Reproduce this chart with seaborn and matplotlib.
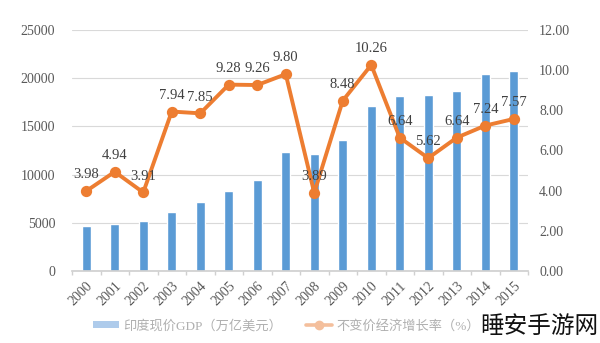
import matplotlib
matplotlib.use("Agg")
import matplotlib.pyplot as plt
import seaborn as sns
import numpy as np
import pandas as pd
from matplotlib.patches import Patch
from matplotlib.lines import Line2D

years = ["2000", "2001", "2002", "2003", "2004", "2005", "2006", "2007",
         "2008", "2009", "2010", "2011", "2012", "2013", "2014", "2015"]
gdp = [4670, 4880, 5190, 6120, 7160, 8300, 9440, 12340,
       12140, 13590, 17120, 18150, 18260, 18670, 20440, 20750]
growth = [3.98, 4.94, 3.91, 7.94, 7.85, 9.28, 9.26, 9.80,
          3.89, 8.48, 10.26, 6.64, 5.62, 6.64, 7.24, 7.57]
left_ticks = [0, 5000, 10000, 15000, 20000, 25000]
right_ticks = [0, 2, 4, 6, 8, 10, 12]
bar_label = "印度现价GDP（万亿美元）"
line_label = "不变价经济增长率（%）"
watermark = "睡安手游网"

sns.set_theme(style="white")
plt.rcParams["font.family"] = ["Liberation Serif", "Noto Sans CJK SC"]

BLUE = "#5B9BD5"
ORANGE = "#ED7D31"
TXT = "#595959"

df = pd.DataFrame({"year": years, "gdp": gdp, "growth": growth})

fig = plt.figure(figsize=(6, 3.43), dpi=100)
ax = fig.add_axes([0.12, 0.21, 0.76, 0.7025])

sns.barplot(data=df, x="year", y="gdp", color=BLUE, saturation=1,
            width=0.32, ax=ax)
ax.set_ylim(0, 25000)
ax.set_yticks(left_ticks)
ax.set_yticklabels([str(v) for v in left_ticks], color=TXT, fontsize=10)
ax.yaxis.grid(True, color="#d9d9d9", linewidth=0.8)
ax.set_axisbelow(True)
for s in ["top", "right", "left"]:
    ax.spines[s].set_visible(False)
ax.spines["bottom"].set_color("#d0d0d0")
ax.set_xlabel("")
ax.set_ylabel("")
ax.tick_params(axis="y", length=0, pad=12)
ax.set_xticks(range(len(years)))
ax.set_xticklabels(years, rotation=45, ha="right", rotation_mode="anchor",
                   color=TXT, fontsize=10)
ax.tick_params(axis="x", length=0, pad=6)
ax.set_xticks(np.arange(-0.5, len(years), 1.0), minor=True)
ax.tick_params(axis="x", which="minor", length=3, color="#d0d0d0",
               direction="out", bottom=True)
ax.set_xlim(-0.5, len(years) - 0.5)

ax2 = ax.twinx()
sns.pointplot(data=df, x="year", y="growth", color=ORANGE, ax=ax2,
              markers="o", linestyles="-", markersize=6, linewidth=2.8)
ax2.set_ylim(0, 12)
ax2.set_yticks(right_ticks)
ax2.set_yticklabels([f"{v:.2f}" for v in right_ticks], color=TXT, fontsize=10)
ax2.tick_params(axis="y", length=0, pad=8)
for s in ["top", "right", "left", "bottom"]:
    ax2.spines[s].set_visible(False)
ax2.set_xlabel("")
ax2.set_ylabel("")
ax2.set_xlim(-0.5, len(years) - 0.5)
ax2.grid(False)

for i, v in enumerate(growth):
    ax2.annotate(f"{v:.2f}", (i, v), xytext=(0, 7), textcoords="offset points",
                 ha="center", va="bottom", fontsize=10.5, color="#404040")

handles = [Patch(facecolor="#aecbeb", edgecolor="none"),
           Line2D([0], [0], color="#f4bf9c", lw=2.6, marker="o",
                  markersize=6)]
fig.legend(handles, [bar_label, line_label], loc="center left",
           bbox_to_anchor=(0.135, 0.05), ncol=2, frameon=False,
           fontsize=9.5, labelcolor="#b0b0b0", handlelength=2.0,
           handleheight=0.5, columnspacing=1.8, handletextpad=0.3)

fig.text(0.997, 0.047, watermark, ha="right", va="center", fontsize=17,
         color="#111111", family=["Noto Sans CJK SC"],
         bbox=dict(facecolor="white", edgecolor="none", pad=1))

fig.savefig("out.png", dpi=100)
